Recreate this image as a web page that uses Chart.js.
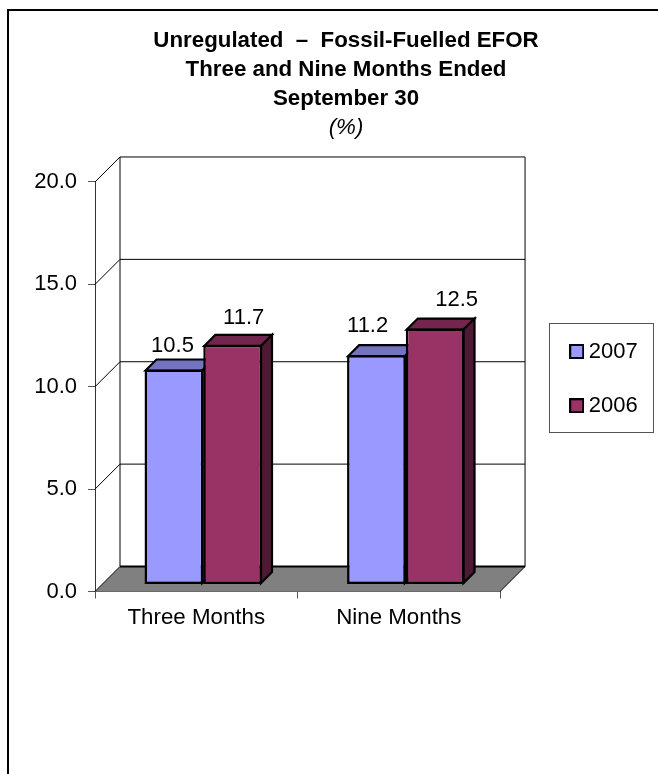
<!DOCTYPE html>
<html>
<head>
<meta charset="utf-8">
<style>
  html, body { margin: 0; padding: 0; background: #fff; overflow: hidden; }
  #wrap { width: 658px; height: 774px; }
</style>
<script src="https://cdn.jsdelivr.net/npm/chart.js@4"></script>
</head>
<body>
<div id="wrap"><canvas id="chart" width="658" height="774"></canvas></div>
<script>
const categories = ["Three Months", "Nine Months"];
const series2007 = [10.5, 11.2];
const series2006 = [11.7, 12.5];
const titleLines = ["Unregulated  \u2013  Fossil-Fuelled EFOR", "Three and Nine Months Ended", "September 30"];
const subtitleText = "(%)";

const FONT = "'Liberation Sans', Arial, sans-serif";
const depth = 25;    // back wall offset
const barShift = 7;  // bars sit a little behind the front edge of the floor
const barDepth = 11;
const legendFrame = { left: 549.5, top: 323.5, width: 104, height: 109 };

// label nudges per dataset/bar, the original labels were placed by hand
const labelNudge = [[[-1.4, -17.8], [-8.8, -23.5]], [[11, -21], [21.5, -22.6]]];

function shade(hex, f) {
  const n = parseInt(hex.slice(1), 16);
  const c = [n >> 16, (n >> 8) & 255, n & 255].map((v) => Math.round(v * f));
  return `rgb(${c[0]},${c[1]},${c[2]})`;
}

function swatch(color) {
  const c = document.createElement("canvas");
  c.width = 15;
  c.height = 15;
  const x = c.getContext("2d");
  x.fillStyle = "#000";
  x.fillRect(0, 0, 15, 15);
  x.fillStyle = color;
  x.fillRect(2, 2, 11, 11);
  return c;
}

const box3d = {
  id: "box3d",
  afterLayout(chart) {
    // move the legend into place, it does not follow the chart box in the original
    const lg = chart.legend;
    lg.left = 543.4;
    lg.right = 658;
    lg.top = 308.2;
    lg.bottom = 600;
    // title sits right of the page centre in the original
    chart.boxes.filter((b) => b.position === "top").forEach((b) => {
      b.left = 0;
      b.right = 692;
    });
  },
  beforeDraw(chart) {
    const { ctx } = chart;
    ctx.save();
    // page frame, only top and left are inside the window
    ctx.strokeStyle = "#000";
    ctx.lineWidth = 2;
    ctx.beginPath();
    ctx.moveTo(8, 774);
    ctx.lineTo(8, 10);
    ctx.lineTo(658, 10);
    ctx.stroke();
    // legend frame
    ctx.lineWidth = 1;
    ctx.strokeStyle = "#555";
    ctx.strokeRect(legendFrame.left, legendFrame.top, legendFrame.width, legendFrame.height);
    ctx.restore();
  },
  beforeDatasetsDraw(chart) {
    const { ctx, chartArea: a, scales } = chart;
    const y = scales.y;
    const y0 = y.getPixelForValue(0);
    ctx.save();
    // floor
    ctx.fillStyle = "#808080";
    ctx.beginPath();
    ctx.moveTo(a.left, y0);
    ctx.lineTo(a.left + depth, y0 - depth);
    ctx.lineTo(a.right + depth, y0 - depth);
    ctx.lineTo(a.right, y0);
    ctx.closePath();
    ctx.fill();
    // gridlines on side wall and back wall
    ctx.strokeStyle = "#000";
    ctx.lineWidth = 1;
    y.ticks.forEach((t) => {
      const py = y.getPixelForValue(t.value);
      ctx.beginPath();
      ctx.moveTo(a.left, py);
      ctx.lineTo(a.left + depth, py - depth);
      ctx.lineTo(a.right + depth, py - depth);
      ctx.stroke();
    });
    // back wall edges
    ctx.beginPath();
    ctx.moveTo(a.left + depth, y0 - depth);
    ctx.lineTo(a.left + depth, a.top - depth);
    ctx.moveTo(a.right + depth, a.top - depth);
    ctx.lineTo(a.right + depth, y0 - depth);
    ctx.lineTo(a.right, y0);
    ctx.stroke();
    ctx.lineWidth = 2;
    ctx.beginPath();
    ctx.moveTo(a.left + depth, y0 - depth);
    ctx.lineTo(a.right + depth, y0 - depth);
    ctx.stroke();
    ctx.restore();

    // all bars move back onto the floor, tops and sides first
    ctx.save();
    ctx.translate(barShift, -barShift);
    ctx.lineWidth = 2.2;
    ctx.strokeStyle = "#000";
    ctx.lineJoin = "miter";
    chart.data.datasets.forEach((ds, i) => {
      chart.getDatasetMeta(i).data.forEach((bar) => {
        const l = bar.x - bar.width / 2 + 1;
        const r = bar.x + bar.width / 2 - 1;
        const t = bar.y + 1;
        const b = bar.base - 1;
        ctx.fillStyle = shade(ds.backgroundColor, 0.75);
        ctx.beginPath();
        ctx.moveTo(l, t);
        ctx.lineTo(l + barDepth, t - barDepth);
        ctx.lineTo(r + barDepth, t - barDepth);
        ctx.lineTo(r, t);
        ctx.closePath();
        ctx.fill();
        ctx.stroke();
        ctx.fillStyle = shade(ds.backgroundColor, 0.5);
        ctx.beginPath();
        ctx.moveTo(r, t);
        ctx.lineTo(r + barDepth, t - barDepth);
        ctx.lineTo(r + barDepth, b - barDepth);
        ctx.lineTo(r, b);
        ctx.closePath();
        ctx.fill();
        ctx.stroke();
      });
    });
  },
  afterDatasetsDraw(chart) {
    const { ctx } = chart;
    ctx.restore(); // undo the bar shift from beforeDatasetsDraw
    ctx.save();
    ctx.fillStyle = "#000";
    ctx.font = `22px ${FONT}`;
    ctx.textAlign = "center";
    ctx.textBaseline = "alphabetic";
    chart.data.datasets.forEach((ds, i) => {
      chart.getDatasetMeta(i).data.forEach((bar, j) => {
        const [dx, dy] = labelNudge[i][j];
        ctx.fillText(ds.data[j].toFixed(1), bar.x + barShift + dx, bar.y - barShift + dy);
      });
    });
    ctx.restore();
  },
};

new Chart(document.getElementById("chart"), {
  type: "bar",
  data: {
    labels: categories,
    datasets: [
      { label: "2007", data: series2007, backgroundColor: "#9999ff", borderColor: "#000", borderWidth: 2.5, borderSkipped: false },
      { label: "2006", data: series2006, backgroundColor: "#993366", borderColor: "#000", borderWidth: 2.5, borderSkipped: false },
    ],
  },
  options: {
    responsive: false,
    animation: false,
    layout: { padding: { top: 0, left: 0, right: 53.7, bottom: 0 } },
    datasets: { bar: { categoryPercentage: 0.58, barPercentage: 1 } },
    plugins: {
      title: {
        display: true,
        text: titleLines,
        color: "#000",
        font: { family: FONT, size: 22.3, weight: "bold", lineHeight: 1.287 },
        padding: { top: 26.65, bottom: 0 },
      },
      subtitle: {
        display: true,
        text: subtitleText,
        color: "#000",
        font: { family: FONT, size: 22.3, style: "italic", lineHeight: 1.21 },
        padding: { top: 2, bottom: 40.25 },
      },
      legend: {
        position: "right",
        align: "start",
        labels: {
          color: "#000",
          font: { family: FONT, size: 22 },
          usePointStyle: true,
          pointStyleWidth: 2,
          boxHeight: 15,
          padding: 32.3,
          generateLabels(chart) {
            return Chart.defaults.plugins.legend.labels.generateLabels(chart).map((item, i) => {
              item.pointStyle = swatch(chart.data.datasets[i].backgroundColor);
              return item;
            });
          },
        },
      },
      tooltip: { enabled: false },
    },
    scales: {
      x: {
        afterFit(s) { s.height = 182.5; },
        grid: { drawOnChartArea: false, color: "#555", tickLength: 7 },
        border: { color: "#555" },
        ticks: { color: "#000", font: { family: FONT, size: 22.3 }, padding: 5.9, maxRotation: 0 },
      },
      y: {
        min: 0,
        max: 20,
        afterFit(s) { s.width = 95; },
        grid: { drawOnChartArea: false, color: "#555", tickLength: 7 },
        border: { color: "#333" },
        ticks: {
          stepSize: 5,
          color: "#000",
          font: { family: FONT, size: 22 },
          padding: 11,
          callback: (v) => v.toFixed(1),
        },
      },
    },
  },
  plugins: [box3d],
});
</script>
</body>
</html>
